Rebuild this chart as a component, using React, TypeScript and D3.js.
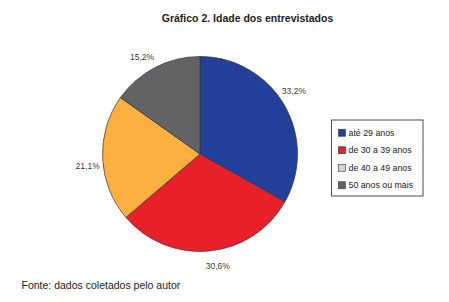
import React from "react";
import * as d3 from "d3";

const categories = ["até 29 anos", "de 30 a 39 anos", "de 40 a 49 anos", "50 anos ou mais"];
const values = [33.2, 30.6, 21.1, 15.2];
const labels = ["33,2%", "30,6%", "21,1%", "15,2%"];
const sliceColors = ["#22409a", "#e8202a", "#fbb040", "#636366"];
const legendColors = ["#22409a", "#e8202a", "#d4d4d4", "#636366"];
const title = "Gráfico 2. Idade dos entrevistados";
const source = "Fonte: dados coletados pelo autor";

const W = 449;
const H = 302;
const cx = 200;
const cy = 154;
const R = 97.5;
const labelR = 113;
const labelShift = (-3.5 * Math.PI) / 180;
const font = "'Liberation Sans', Arial, sans-serif";

export default function App() {
  const pie = d3
    .pie<number>()
    .sort(null)
    .value((d) => d)
    .startAngle(0)
    .endAngle(2 * Math.PI);
  const arcs = pie(values);
  const arc = d3.arc<d3.PieArcDatum<number>>().innerRadius(0).outerRadius(R);

  const legendX = 331.5;
  const legendY = 120;
  const legendW = 91.5;
  const legendH = 76;
  const rowScale = d3
    .scaleBand<string>()
    .domain(categories)
    .range([legendY + 4, legendY + legendH - 2]);

  return (
    <svg
      width={W}
      height={H}
      style={{ position: "absolute", left: 0, top: 0, background: "#fff" }}
      fontFamily={font}
    >
      <rect x={0} y={0} width={W} height={H} fill="#fff" />
      <text x={247.5} y={22} textAnchor="middle" fontSize={10.5} fontWeight="bold" fill="#222">
        {title}
      </text>
      <g transform={`translate(${cx},${cy})`}>
        {arcs.map((a, i) => (
          <path key={i} d={arc(a) || ""} fill={sliceColors[i]} stroke="#333" strokeWidth={0.7} />
        ))}
        {arcs.map((a, i) => {
          const mid = (a.startAngle + a.endAngle) / 2 + labelShift;
          const x = Math.sin(mid) * labelR;
          const y = -Math.cos(mid) * labelR;
          return (
            <text
              key={i}
              x={x}
              y={y}
              textAnchor="middle"
              dominantBaseline="central"
              fontSize={8.5}
              fill="#3a3a3a"
            >
              {labels[i]}
            </text>
          );
        })}
      </g>
      <rect
        x={legendX}
        y={legendY}
        width={legendW}
        height={legendH}
        fill="#fff"
        stroke="#222"
        strokeWidth={0.8}
      />
      {categories.map((c, i) => {
        const yc = (rowScale(c) || 0) + rowScale.bandwidth() / 2;
        return (
          <g key={c}>
            <rect
              x={338.5}
              y={yc - 3.5}
              width={7}
              height={7}
              fill={legendColors[i]}
              stroke="#333"
              strokeWidth={0.6}
            />
            <text x={348.5} y={yc} dominantBaseline="central" fontSize={8.8} fill="#222">
              {c}
            </text>
          </g>
        );
      })}
      <text x={21.5} y={289} fontSize={10.5} fill="#222">
        {source}
      </text>
    </svg>
  );
}
